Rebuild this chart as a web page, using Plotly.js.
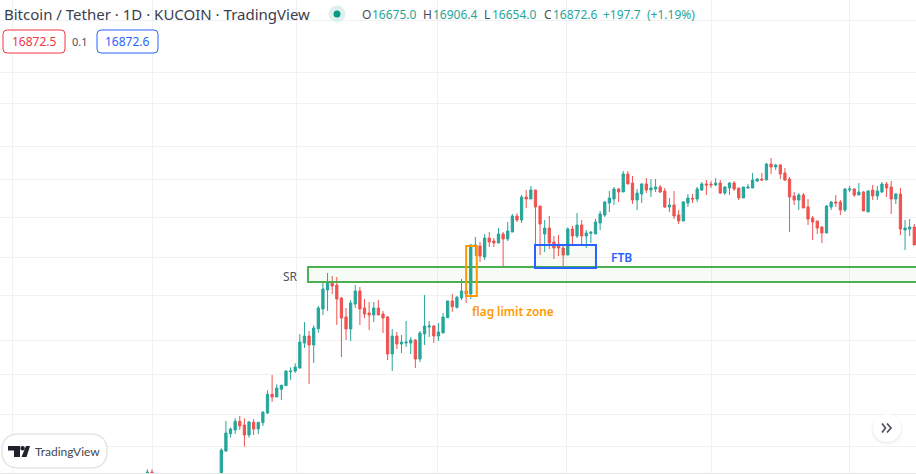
<!DOCTYPE html>
<html><head><meta charset="utf-8">
<script src="https://cdn.plot.ly/plotly-3.0.1.min.js"></script>
<style>html,body{margin:0;padding:0;background:#fff;overflow:hidden}#chart{width:916px;height:474px}</style>
</head><body><div id="chart"></div>
<script>
const earlySessions=[-16,-15];
const opens=[5000,5020,
5007,5230,5403,5440,5527,5490,5390,5517,5450,5513,
5610,5797,5770,5847,5883,6023,6030,6060,6310,6380,
6290,6453,6650,6840,6920,6890,6760,6570,6450,6700,
6830,6660,6610,6590,6660,6600,6570,6200,6380,6300,
6310,6310,6340,6150,6400,6470,6480,6380,6410,6563,
6730,6667,6760,6830,6800,7280,7280,7170,7360,7330,
7310,7400,7350,7420,7580,7540,7770,7750,7840,7680,
7400,7460,7320,7300,7260,7190,7450,7380,7490,7380,
7407,7400,7510,7590,7710,7750,7850,7820,8000,7910,
7740,7800,7900,7840,7850,7870,7830,7670,7690,7590,
7530,7710,7757,7750,7840,7900,7900,7890,7910,7810,
7860,7910,7860,7760,7860,7860,7930,7950,7940,8100,
8070,8090,8010,7950,7780,7740,7790,7670,7560,7530,
7470,7410,7670,7720,7720,7640,7840,7850,7790,7820,
7620,7840,7780,7820,7900,7870,7750,7800,7440,7450,7470];
const highs=[5047,5047,
5257,5530,5463,5557,5580,5557,5530,5550,5520,5630,
5837,5990,5897,5893,6037,6067,6107,6400,6520,6430,
6487,6680,6920,7010,6980,6970,6770,6660,6740,6890,
6870,6750,6720,6720,6740,6630,6580,6450,6420,6390,
6530,6370,6350,6430,6790,6530,6490,6510,6610,6733,
6800,6780,6950,6873,7300,7370,7320,7400,7420,7360,
7460,7420,7520,7600,7607,7790,7840,7880,7840,7680,
7540,7580,7380,7390,7290,7467,7480,7610,7540,7440,
7430,7550,7630,7730,7830,7870,7860,8030,8030,7980,
7850,7910,7960,7950,7950,7890,7860,7760,7830,7640,
7730,7800,7800,7870,7920,7940,7930,7960,7940,7880,
7920,7930,7860,7870,7900,8010,7960,8010,8110,8160,
8100,8100,8060,7970,7820,7810,7810,7750,7580,7530,
7480,7690,7730,7790,7740,7860,7880,7860,7910,7830,
7840,7890,7880,7920,7920,7930,7810,7860,7540,7550,7500];
const lows=[5000,5000,
5000,5223,5363,5400,5440,5273,5363,5390,5400,5480,
5600,5720,5770,5740,5880,5940,6010,6053,6260,5900,
6110,6413,6590,6630,6800,6490,6170,6340,6330,6660,
6490,6560,6440,6520,6590,6410,6140,6030,6250,6210,
6270,6200,6060,6120,6290,6370,6310,6330,6410,6560,
6623,6653,6740,6710,6750,7180,7120,7140,7270,7270,
7310,7070,7330,7420,7520,7510,7660,7750,7090,7190,
7220,7250,7150,7180,7080,7190,7290,7360,7300,7260,
7310,7400,7440,7570,7620,7690,7720,7820,7900,7700,
7640,7710,7810,7770,7820,7810,7660,7620,7550,7500,
7530,7670,7710,7720,7830,7790,7860,7880,7800,7790,
7790,7830,7740,7760,7850,7860,7920,7930,7940,8000,
8040,7950,7930,7420,7690,7640,7660,7490,7340,7400,
7310,7410,7640,7670,7590,7620,7820,7770,7790,7630,
7620,7740,7740,7810,7770,7600,7700,7390,7240,7380,7290];
const closes=[5020,5000,
5240,5410,5450,5527,5480,5390,5520,5450,5517,5617,
5797,5770,5860,5887,6030,6030,6070,6320,6380,6290,
6460,6660,6850,6920,6880,6750,6560,6450,6710,6830,
6650,6600,6590,6660,6590,6560,6200,6380,6300,6320,
6320,6340,6150,6410,6480,6480,6380,6420,6570,6730,
6673,6767,6830,6800,7290,7290,7180,7360,7320,7310,
7400,7350,7430,7580,7540,7770,7750,7840,7670,7500,
7460,7310,7260,7260,7190,7450,7380,7490,7380,7410,
7417,7520,7600,7720,7760,7850,7820,8000,7900,7740,
7810,7900,7840,7860,7870,7820,7670,7690,7580,7530,
7720,7760,7750,7850,7900,7890,7890,7910,7810,7870,
7910,7850,7760,7870,7870,7940,7950,7940,8100,8070,
8090,8000,7940,7770,7740,7790,7660,7550,7520,7460,
7410,7680,7720,7710,7640,7850,7850,7790,7820,7630,
7830,7780,7830,7900,7860,7750,7800,7450,7460,7470,7290];
const sessions=earlySessions.concat(opens.slice(earlySessions.length).map((_,i)=>i));
const priceGrid=[9540,9020,8710,8280,7950,7570,7170,6790,6340,6000,5600,5280];
const sessionGrid=[-45.1,-15,16.2,46.9,74.8,106,135.9];
const srZone={x0:18.76,x1:152,y0:6920,y1:7070};
const ftbZone={x0:67.9,x1:81.1,y0:7060,y1:7290};
const flagZone={x0:53,x1:55.3,y0:6780,y1:7280};

const UP='#26a69a',DOWN='#ef5350';
const W=916,H=474;
const px=(x)=>x/W, py=(y)=>1-y/H;
const P=(x,y)=>px(x)+' '+py(y);
function roundRect(x0,y0,x1,y1,r){
  return 'M'+P(x0+r,y0)+' L'+P(x1-r,y0)+' Q'+P(x1,y0)+' '+P(x1,y0+r)+' L'+P(x1,y1-r)+' Q'+P(x1,y1)+' '+P(x1-r,y1)+
   ' L'+P(x0+r,y1)+' Q'+P(x0,y1)+' '+P(x0,y1-r)+' L'+P(x0,y0+r)+' Q'+P(x0,y0)+' '+P(x0+r,y0)+' Z';
}
function circle(cx,cy,r,fill,opt){
  return Object.assign({type:'circle',xref:'paper',yref:'paper',x0:px(cx-r),x1:px(cx+r),y0:py(cy+r),y1:py(cy-r),fillcolor:fill,line:{width:0}},opt||{});
}
function pathShape(d,fill,line){return {type:'path',xref:'paper',yref:'paper',path:d,fillcolor:fill,line:line||{width:0}};}
function poly(pts){return 'M'+pts.map(p=>P(p[0],p[1])).join(' L')+' Z';}
function open(pts){return 'M'+pts.map(p=>P(p[0],p[1])).join(' L');}
function label(x,y,text,color,size,anchor,family,extra){
  return Object.assign({xref:'paper',yref:'paper',x:px(x),y:py(y),text:text,showarrow:false,xanchor:anchor||'left',yanchor:'middle',
    font:{family:family||'"Noto Sans",sans-serif',size:size,color:color},borderpad:0,borderwidth:0},extra||{});
}
const shapes=[
  {type:'line',xref:'paper',yref:'paper',x0:0,x1:1,y0:py(473.5),y1:py(473.5),line:{color:'#e4e4e4',width:1}},
  Object.assign({type:'rect',xref:'x',yref:'y'},srZone,{fillcolor:'rgba(76,175,80,0.05)',line:{color:'#4caf50',width:2}}),
  Object.assign({type:'rect',xref:'x',yref:'y'},ftbZone,{fillcolor:'rgba(76,175,80,0.05)',line:{color:'#2962ff',width:2}}),
  Object.assign({type:'rect',xref:'x',yref:'y'},flagZone,{fillcolor:'rgba(255,152,0,0)',line:{color:'#ff9800',width:2}}),
  pathShape(roundRect(3,30,65,53,4),'#ffffff',{color:'#f23645',width:1}),
  pathShape(roundRect(97,30,158,53,4),'#ffffff',{color:'#2962ff',width:1}),
  circle(337,14,8.5,'#dff1ee'),
  circle(337,14,3.5,'#089981'),
  pathShape(roundRect(2,434,107,468,17),'#ffffff',{color:'#e6e6e6',width:1.5}),
  pathShape(poly([[8,446],[20,446],[20,457],[14,457],[14,450.5],[8,450.5]]),'#1e222d'),
  circle(22.6,448.2,2.3,'#1e222d'),
  pathShape(poly([[26,446],[30,446],[26.5,457],[21.5,457]]),'#1e222d'),
  circle(887,429.5,16.5,'rgba(0,0,0,0.012)'),
  circle(887,429.5,15.5,'rgba(0,0,0,0.02)'),
  circle(887,429,14.5,'rgba(0,0,0,0.03)'),
  circle(887,428,14,'#ffffff'),
  pathShape(open([[882,423.5],[885.5,428],[882,432.5]]),'rgba(0,0,0,0)',{color:'#50535e',width:1.8}),
  pathShape(open([[887,423.5],[891,428],[887,432.5]]),'rgba(0,0,0,0)',{color:'#50535e',width:1.8})
];
const HF='"Noto Sans",sans-serif';
const annotations=[
  label(4,14,'Bitcoin / Tether · 1D · KUCOIN · TradingView','#3a3e4b',15,'left',HF),
  label(362,15,'O','#4a4e5a',12,'left',HF),label(372,15,'16675.0',UP,12,'left',HF),
  label(423,15,'H','#4a4e5a',12,'left',HF),label(433,15,'16906.4',UP,12,'left',HF),
  label(484,15,'L','#4a4e5a',12,'left',HF),label(492,15,'16654.0',UP,12,'left',HF),
  label(544,15,'C','#4a4e5a',12,'left',HF),label(553,15,'16872.6',UP,12,'left',HF),
  label(603,15,'+197.7',UP,12,'left',HF),label(647,15,'(+1.19%)',UP,12,'left',HF),
  label(34,41.5,'16872.5','#f23645',12,'center',HF),
  label(80,41.5,'0.1','#4a4e5a',11,'center',HF),
  label(127.5,41.5,'16872.6','#2962ff',12,'center',HF),
  label(290,276.5,'SR','#50535e',12,'center',HF),
  label(611,257,'FTB','#2962ff',12,'left',HF,{font:{family:HF,size:12,color:'#2962ff',weight:600}}),
  label(472,311,'flag limit zone','#ff9800',11.8,'left',HF,{font:{family:HF,size:11.8,color:'#ff9800',weight:600}}),
  label(35,451,'TradingView','#43464f',12,'left','Lato,sans-serif')
];
const trace={type:'candlestick',x:sessions,open:opens,high:highs,low:lows,close:closes,
  increasing:{line:{color:UP,width:1},fillcolor:UP},
  decreasing:{line:{color:DOWN,width:1},fillcolor:DOWN},
  whiskerwidth:0,hoverinfo:'skip',showlegend:false};
const layout={width:W,height:H,margin:{l:0,r:0,t:0,b:0},paper_bgcolor:'#fff',plot_bgcolor:'#fff',
  showlegend:false,hovermode:false,dragmode:false,
  xaxis:{type:'linear',range:[-47.9,150.37],rangeslider:{visible:false},tickmode:'array',tickvals:sessionGrid,ticktext:sessionGrid.map(()=>''),showticklabels:false,ticks:'',showgrid:true,gridcolor:'#f1f1f2',gridwidth:1,zeroline:false,showline:false},
  yaxis:{type:'linear',range:[5000,9740],tickmode:'array',tickvals:priceGrid,ticktext:priceGrid.map(()=>''),showticklabels:false,ticks:'',showgrid:true,gridcolor:'#f1f1f2',gridwidth:1,zeroline:false,showline:false},
  shapes:shapes,annotations:annotations};
Plotly.newPlot('chart',[trace],layout,{staticPlot:true,displayModeBar:false});
</script></body></html>
